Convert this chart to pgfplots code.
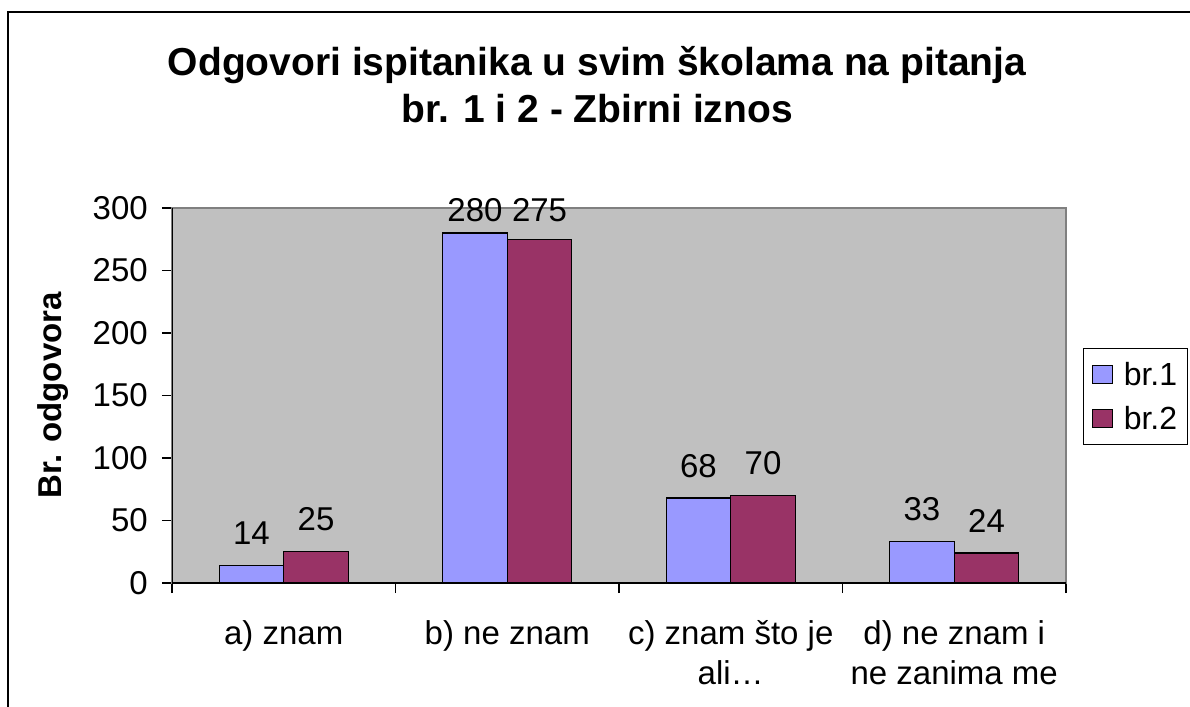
\documentclass[border=0pt]{standalone}
\usepackage{fontspec}
\setmainfont{Liberation Sans}
\usepackage{pgfplots}
\pgfplotsset{compat=1.18}
\definecolor{peri}{HTML}{9999FF}
\definecolor{plum}{HTML}{993366}
\definecolor{plotbg}{HTML}{C0C0C0}
\definecolor{boxgray}{HTML}{808080}
\begin{document}
\begin{tikzpicture}
\useasboundingbox (0,0) rectangle (1190pt,706pt);
\clip (0,0) rectangle (1190pt,706pt);
\draw[line width=2.5pt] (8pt,-20pt) rectangle (1230pt,694pt);
\node[anchor=base, font=\fontsize{39}{47}\selectfont\bfseries] at (597pt,630pt) {Odgovori ispitanika u svim školama na pitanja};
\node[anchor=base, font=\fontsize{39}{47}\selectfont\bfseries] at (597pt,583pt) {br. 1 i 2 - Zbirni iznos};
\begin{axis}[
  at={(172pt,123pt)}, anchor=south west,
  scale only axis, width=894pt, height=375pt,
  xmin=-0.5, xmax=3.5, ymin=0, ymax=300,
  ybar=0pt,
  axis background/.style={fill=plotbg},
  axis line style={draw=boxgray, line width=1.2pt},
  /pgf/number format/assume math mode=true,
  ytick={0,50,...,300},
  xtick={-0.5,0.5,1.5,2.5,3.5},
  xticklabels={},
  extra x ticks={0,1,2,3},
  extra x tick labels={a) znam, b) ne znam, {c) znam što je\\ali…}, {d) ne znam i\\ne zanima me}},
  extra x tick style={major tick length=0pt},
  xtick pos=left, ytick pos=left,
  tick align=outside,
  major tick length=10pt,
  tick style={black, line width=1.2pt},
  ticklabel style={font=\fontsize{33}{40}\selectfont},
  yticklabel style={anchor=east, inner sep=0pt, xshift=-14pt},
  xticklabel style={anchor=north, inner sep=0pt, align=center, yshift=-37pt},
  ylabel={Br. odgovora},
  ylabel style={font=\fontsize{33}{40}\selectfont\bfseries, at={(axis description cs:-0.133,0.5)}, anchor=center},
  bar width=0.289,
  nodes near coords,
  visualization depends on={y \as \rawy},
  nodes near coords style={font=\fontsize{33}{40}\selectfont, anchor=south, inner sep=0pt, yshift={min(20,361-1.25*\rawy)}},
  legend style={at={(axis description cs:1.019,0.627)}, anchor=north west, draw=black, line width=1.2pt, fill=white,
    font=\fontsize{32}{38}\selectfont, row sep=15pt, inner xsep=8pt, inner ysep=12pt,
    nodes={inner sep=2pt}},
  legend cell align=left,
  legend image code/.code={\draw[#1, draw=black, line width=1.2pt] (3pt,-9pt) rectangle (23pt,9pt); \path (32pt,0pt);},
]
\addplot[bar shift=-0.1445, fill=peri, draw=black, line width=1.2pt] coordinates {(0,14) (1,280) (2,68) (3,33)};
\addplot[bar shift=0.1445, fill=plum, draw=black, line width=1.2pt] coordinates {(0,25) (1,275) (2,70) (3,24)};
\legend{br.1\hspace{40pt}, br.2\hspace{40pt}}
\draw[black, line width=1.5pt] (rel axis cs:0,1) -- (rel axis cs:0,0) -- (rel axis cs:1,0);
\end{axis}
\end{tikzpicture}
\end{document}
